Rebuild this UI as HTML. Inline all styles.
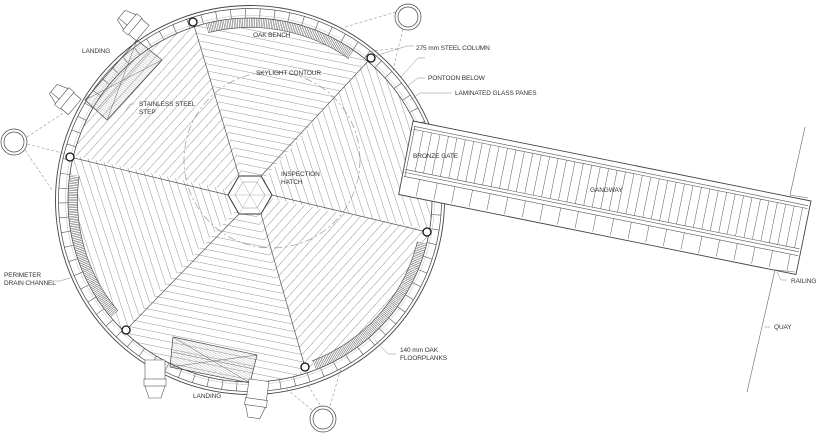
<!DOCTYPE html>
<html><head><meta charset="utf-8">
<style>
html,body{margin:0;padding:0;background:#fff;width:818px;height:437px;overflow:hidden;}
svg{display:block;}
text{font-family:"Liberation Sans",sans-serif;font-size:6.5px;fill:#333;letter-spacing:-0.1px;}
</style></head>
<body>
<svg id="s" width="818" height="437" viewBox="0 0 818 437" xmlns="http://www.w3.org/2000/svg">
<defs>
  <pattern id="p1" width="7" height="7" patternUnits="userSpaceOnUse" patternTransform="rotate(11.5)">
    <line x1="0" y1="0" x2="7" y2="0" stroke="#666" stroke-width="0.7"/></pattern>
  <pattern id="p2" width="7" height="7" patternUnits="userSpaceOnUse" patternTransform="rotate(72)">
    <line x1="0" y1="0" x2="7" y2="0" stroke="#666" stroke-width="0.7"/></pattern>
  <pattern id="p3" width="7" height="7" patternUnits="userSpaceOnUse" patternTransform="rotate(132)">
    <line x1="0" y1="0" x2="7" y2="0" stroke="#666" stroke-width="0.7"/></pattern>
  <pattern id="ph" width="2" height="2" patternUnits="userSpaceOnUse" patternTransform="rotate(30)">
    <line x1="0" y1="0" x2="2" y2="0" stroke="#999" stroke-width="0.6"/></pattern>
  <clipPath id="cf"><circle cx="250" cy="200" r="182"/></clipPath>
</defs>
<g stroke="#999" stroke-width="0.6" stroke-dasharray="3 2" fill="none">
  <line x1="396" y1="12" x2="345" y2="27"/><line x1="403" y1="29" x2="393" y2="70"/><line x1="398" y1="48" x2="365" y2="52"/>
  <line x1="27" y1="137" x2="65" y2="112"/><line x1="25" y1="150" x2="52" y2="190"/><line x1="27" y1="144" x2="70" y2="155"/>
  <line x1="312" y1="410" x2="278" y2="382"/><line x1="330" y1="406" x2="345" y2="355"/><line x1="320" y1="405" x2="300" y2="372"/>
</g>
<g fill="#fff" stroke="#444" stroke-width="0.7">
  <circle cx="408" cy="17" r="13"/><circle cx="408" cy="17" r="10"/>
  <circle cx="14" cy="142" r="13"/><circle cx="14" cy="142" r="10"/>
  <circle cx="323" cy="419" r="13"/><circle cx="323" cy="419" r="10"/>
</g>
<g clip-path="url(#cf)" stroke="none">
  <polygon points="250,195 136,-156 492,-84" fill="url(#p1)"/>
  <polygon points="250,195 492,-84 604,264" fill="url(#p2)"/>
  <polygon points="250,195 604,264 360,534" fill="url(#p3)"/>
  <polygon points="250,195 360,534 2,460" fill="url(#p1)"/>
  <polygon points="250,195 2,460 -110,114" fill="url(#p2)"/>
  <polygon points="250,195 -110,114 136,-156" fill="url(#p3)"/>
</g>
<g stroke="#555" stroke-width="0.7">
  <line x1="239" y1="176" x2="193" y2="22"/><line x1="261" y1="176" x2="371" y2="58"/>
  <line x1="272" y1="195" x2="427" y2="232"/><line x1="261" y1="214" x2="305" y2="367"/>
  <line x1="239" y1="214" x2="126" y2="330"/><line x1="228" y1="195" x2="70" y2="157"/>
</g>
<polygon points="272,195 261,176 239,176 228,195 239,214 261,214" fill="#fff" stroke="#333" stroke-width="1"/>
<polygon points="265,195 257,182 243,182 235,195 243,208 257,208" fill="none" stroke="#888" stroke-width="0.5"/>
<g stroke="#999" stroke-width="0.4"><line x1="228" y1="195" x2="272" y2="195"/><line x1="239" y1="176" x2="261" y2="214"/><line x1="261" y1="176" x2="239" y2="214"/></g>
<circle cx="272" cy="160" r="88" fill="none" stroke="#888" stroke-width="0.6" stroke-dasharray="8 3 2 3"/>
<g fill="none">
  <circle cx="250" cy="200" r="187" stroke="#fff" stroke-width="9"/>
  <circle cx="250" cy="200" r="187" stroke="#555" stroke-width="9" stroke-dasharray="0.6 14"/>
  <circle cx="250" cy="200" r="182" stroke="#444" stroke-width="0.8"/>
  <circle cx="250" cy="200" r="191.5" stroke="#444" stroke-width="0.7"/>
  <circle cx="250" cy="200" r="194.5" stroke="#444" stroke-width="0.9"/>
  <circle cx="250" cy="200" r="184.5" stroke="#aaa" stroke-width="0.4"/>
</g>
<g id="benches" fill="none"></g>
<polygon points="137,40 162,60 107,120 85,100" fill="url(#ph)" stroke="#444" stroke-width="0.7"/>
<g stroke="#666" stroke-width="0.5"><line x1="137" y1="40" x2="107" y2="120"/><line x1="162" y1="60" x2="85" y2="100"/><line x1="150" y1="50" x2="96" y2="110"/></g>
<polygon points="173,337 257,355 250,383 170,367" fill="url(#ph)" stroke="#444" stroke-width="0.7"/>
<g stroke="#666" stroke-width="0.5"><line x1="173" y1="337" x2="250" y2="383"/><line x1="257" y1="355" x2="170" y2="367"/><line x1="172" y1="352" x2="254" y2="369"/></g>
<g fill="#fff" stroke="#555" stroke-width="0.6">
  <g transform="translate(132,24) rotate(-50)"><polygon points="-6,-14 6,-14 10,-2 10,14 -10,14 -10,-2"/><rect x="-11" y="-3" width="22" height="7"/><line x1="-4" y1="-14" x2="-4" y2="-3"/></g>
  <g transform="translate(64,98) rotate(-50)"><polygon points="-6,-14 6,-14 10,-2 10,14 -10,14 -10,-2"/><rect x="-11" y="-3" width="22" height="7"/><line x1="-4" y1="-14" x2="-4" y2="-3"/></g>
  <g transform="translate(155,382) rotate(180)"><polygon points="-6,-16 6,-16 10,-4 10,22 -10,22 -10,-4"/><rect x="-11" y="-4" width="22" height="7"/></g>
  <g transform="translate(256,402) rotate(188)"><polygon points="-6,-16 6,-16 10,-4 10,22 -10,22 -10,-4"/><rect x="-11" y="-4" width="22" height="7"/></g>
</g>
<polygon points="413,121 811,201 796,274.5 398.7,194.5" fill="#fff" stroke="#444" stroke-width="0.9"/>
<g id="gw" stroke="#555" stroke-width="0.5" fill="none"></g>
<g stroke="#666" stroke-width="0.6" fill="none">
  <polyline points="805,127 790,195 808,198"/>
  <polyline points="795,272 775,270 747,392"/>
</g>
<g fill="#fff" stroke="#111" stroke-width="1.3">
  <circle cx="193" cy="22" r="4"/><circle cx="371" cy="58" r="4"/><circle cx="427" cy="232" r="4"/>
  <circle cx="305" cy="367" r="4"/><circle cx="126" cy="330" r="4"/><circle cx="70" cy="157" r="4"/>
</g>
<g stroke="#888" stroke-width="0.5" fill="none">
  <polyline points="414,46 407,46 375,56"/>
  <polyline points="425,58 418,58 400,78"/>
  <polyline points="425,78 418,78 405,88"/>
  <polyline points="452,93 420,93 410,100"/>
  <polyline points="134,104 130,104 125,112"/>
  <polyline points="54,281 60,281 70,278"/>
  <polyline points="396,354 388,354 375,340"/>
  <polyline points="787,280 781,280 777,272"/>
  <line x1="770" y1="327" x2="764" y2="327"/>
</g>
<text x="82" y="53">LANDING</text>
<text x="253" y="37">OAK BENCH</text>
<text x="416" y="50">275 mm STEEL COLUMN</text>
<text x="428" y="80">PONTOON BELOW</text>
<text x="455" y="95">LAMINATED GLASS PANES</text>
<text x="256" y="75">SKYLIGHT CONTOUR</text>
<text x="139" y="106">STAINLESS STEEL</text>
<text x="139" y="114">STEP</text>
<text x="413" y="158">BRONZE GATE</text>
<text x="281" y="176">INSPECTION</text>
<text x="281" y="184">HATCH</text>
<text x="590" y="192">GANGWAY</text>
<text x="4" y="277">PERIMETER</text>
<text x="4" y="285">DRAIN CHANNEL</text>
<text x="791" y="283">RAILING</text>
<text x="774" y="329">QUAY</text>
<text x="400" y="352">140 mm OAK</text>
<text x="400" y="360">FLOORPLANKS</text>
<text x="193" y="398">LANDING</text>
</svg>
<script>
(function(){
var NS="http://www.w3.org/2000/svg";
function el(p,n,a){var e=document.createElementNS(NS,n);for(var k in a)e.setAttribute(k,a[k]);p.appendChild(e);return e;}
var b=document.getElementById("benches"),cx=250,cy=200,r=177;
function arcr(a1,a2,rr){var t1=a1*Math.PI/180,t2=a2*Math.PI/180;
 return "M"+(cx+rr*Math.cos(t1))+","+(cy+rr*Math.sin(t1))+" A"+rr+","+rr+" 0 0 1 "+(cx+rr*Math.cos(t2))+","+(cy+rr*Math.sin(t2));}
[[-104,-55],[14,69],[140,188]].forEach(function(a){
 el(b,"path",{d:arcr(a[0],a[1],r),stroke:"#fff","stroke-width":9});
 el(b,"path",{d:arcr(a[0],a[1],r),stroke:"#555","stroke-width":9,"stroke-dasharray":"0.5 1.2"});
 el(b,"path",{d:arcr(a[0],a[1],172.5),stroke:"#444","stroke-width":0.6});
});
var g=document.getElementById("gw");
var ox=413,oy=121,ux=0.9805,uy=0.1975,nx=-0.1975,ny=0.9805,L=406;
function P(s,o){return [ox+ux*s+nx*o, oy+uy*s+ny*o];}
function line(s1,o1,s2,o2,w){var a=P(s1,o1),c=P(s2,o2);el(g,"line",{x1:a[0],y1:a[1],x2:c[0],y2:c[1],"stroke-width":w||0.5});}
[5,8,49,52,56].forEach(function(o){line(2,o,L-2,o,0.6);});
line(3,5,3,56,0.6);
for(var s=12;s<L-4;s+=8.6){line(s,8,s,49,0.5);}
for(var s=18;s<L;s+=18){line(s,56,s,73,0.5);}
})();
</script>
</body></html>
